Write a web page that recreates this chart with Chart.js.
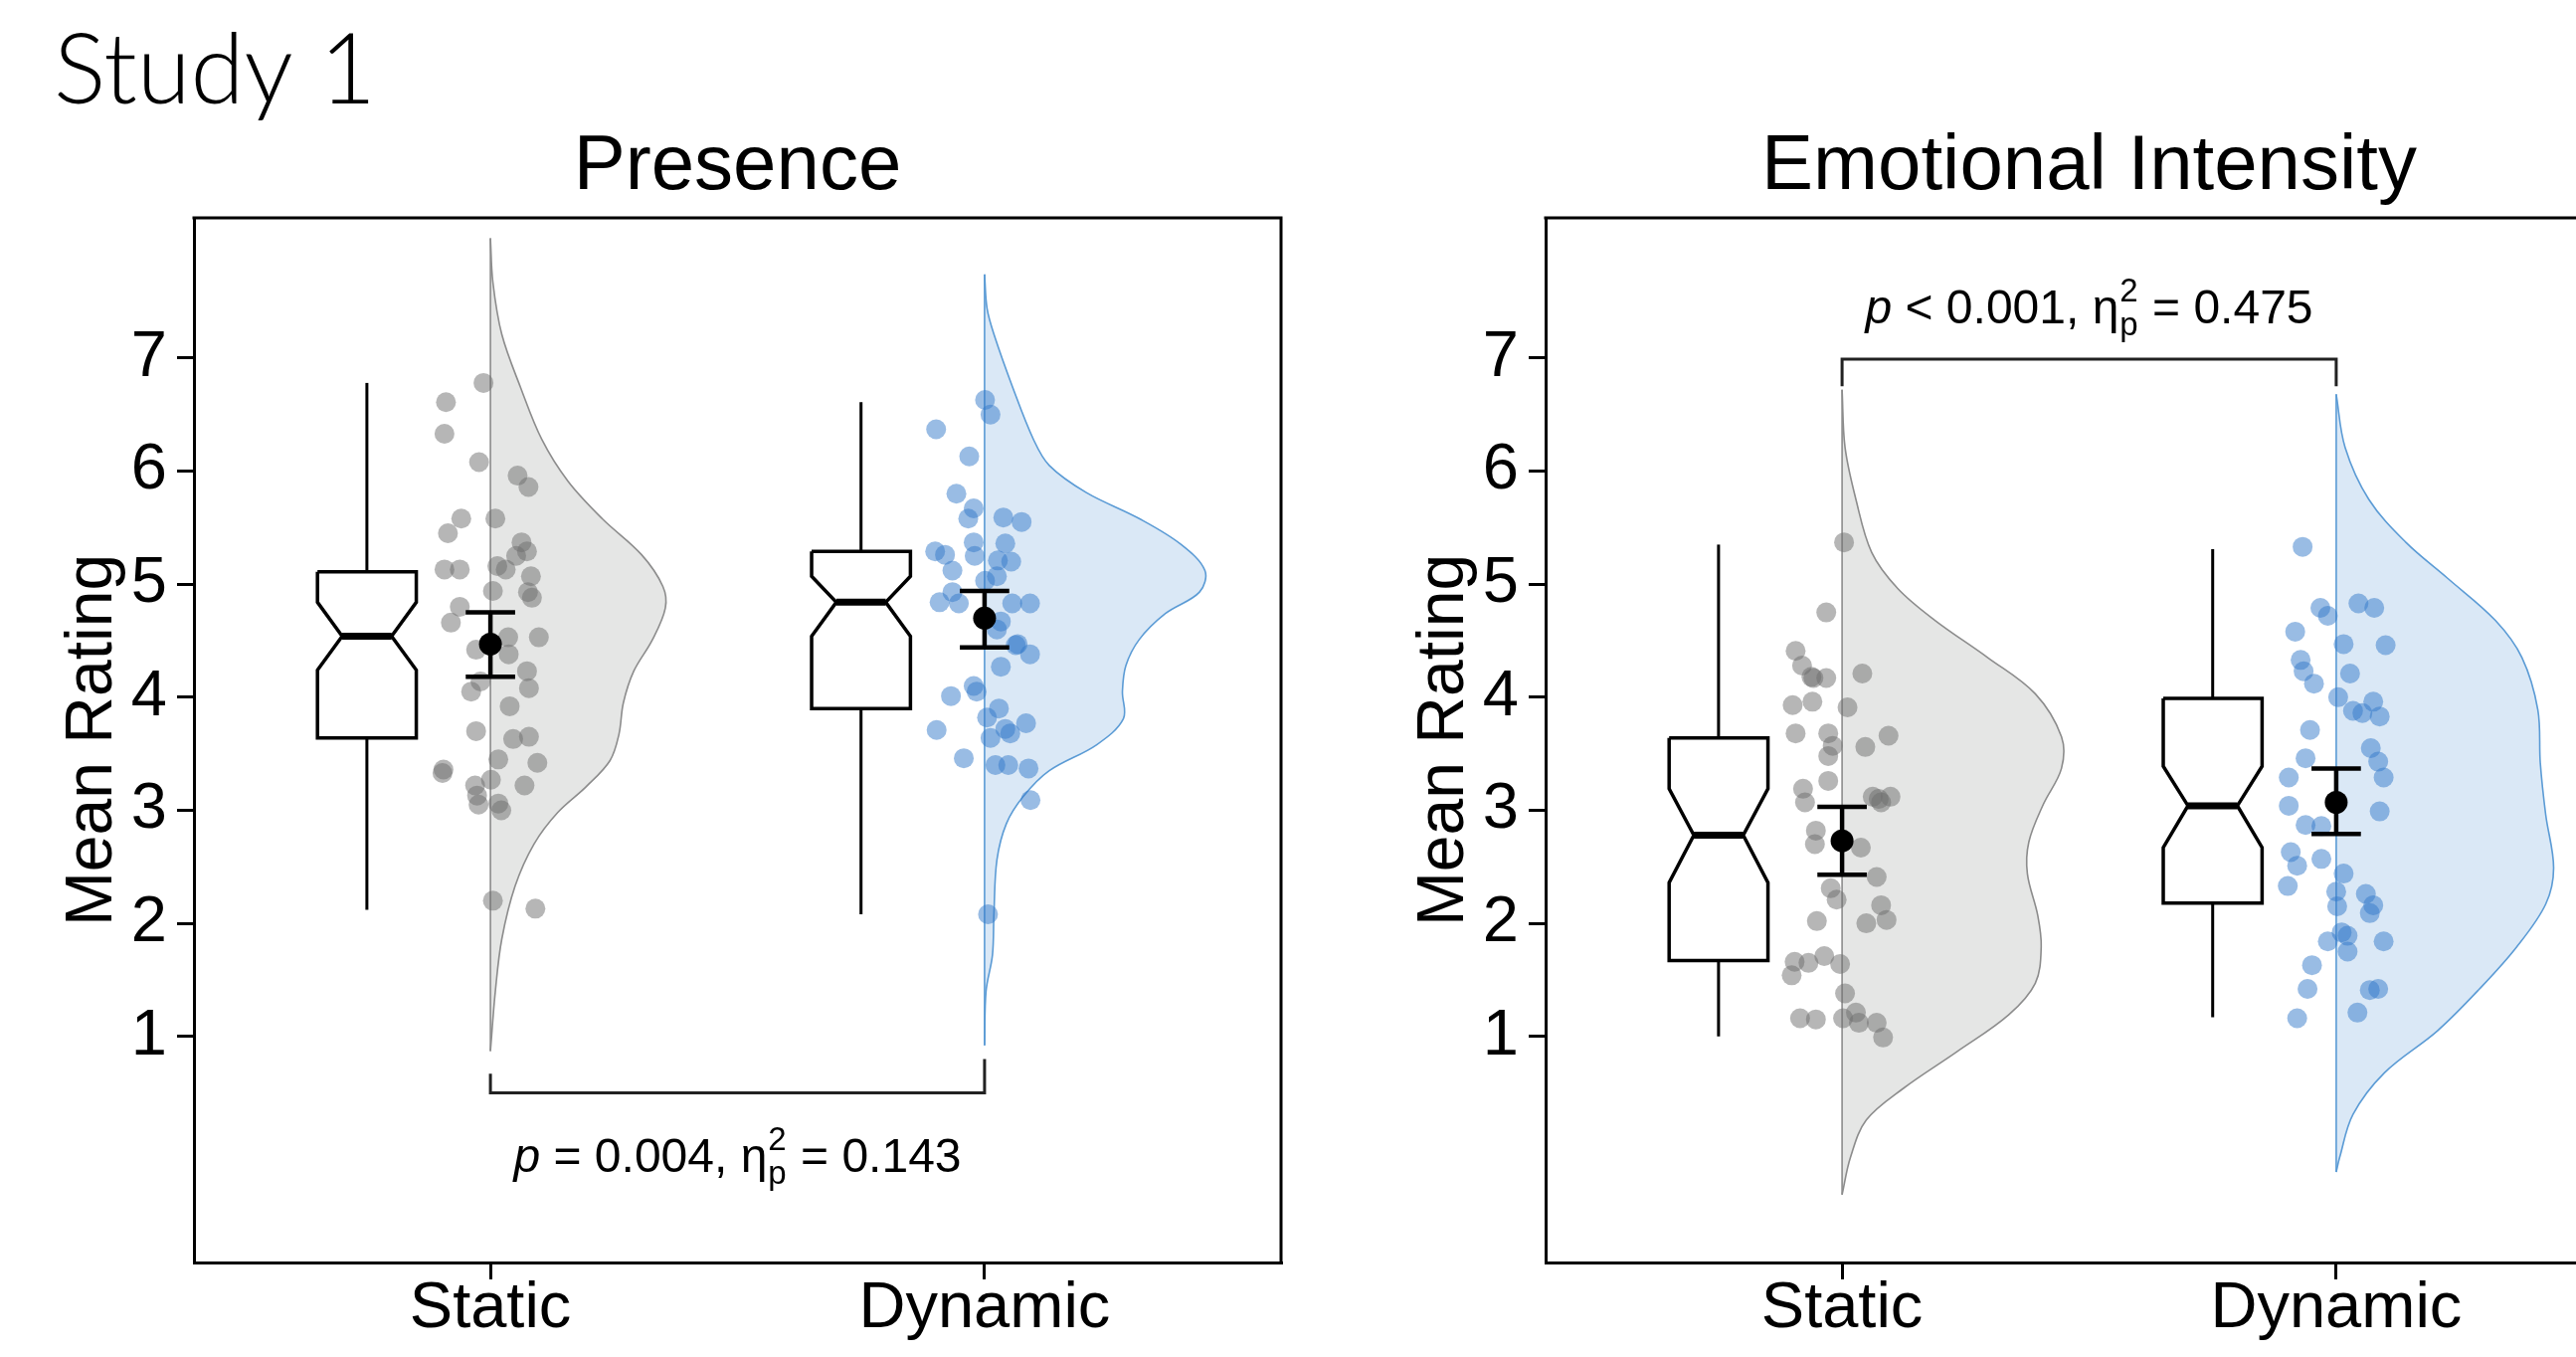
<!DOCTYPE html>
<html>
<head>
<meta charset="utf-8">
<script src="https://cdn.jsdelivr.net/npm/chart.js@4.4.1/dist/chart.umd.min.js"></script>
<style>
  html, body { margin: 0; padding: 0; background: #fff; overflow: hidden; width: 2590px; height: 1364px; }
  canvas { position: absolute; top: 0; }
  #presence { left: 0; }
  #emotion { left: 1359px; }
</style>
</head>
<body>
<canvas id="presence" width="1330" height="1364"></canvas>
<canvas id="emotion" width="1330" height="1364"></canvas>
<script>
// categories and ticks
const categories = ["Static", "Dynamic"];
const yTickValues = [1, 2, 3, 4, 5, 6, 7];
const panelTitles = ["Presence", "Emotional Intensity"];

// Presence - individual ratings (jitter)
const presStaticRatings = [6.78, 6.61, 6.33, 6.08, 5.96, 5.86, 5.58, 5.58, 5.45, 5.37, 5.29, 5.25, 5.13, 5.13, 5.16, 5.13, 5.07, 4.94, 4.93, 4.88, 4.80, 4.66, 4.53, 4.53, 4.42, 4.38, 4.23, 4.14, 4.05, 4.08, 3.92, 3.70, 3.63, 3.65, 3.36, 3.45, 3.42, 3.27, 3.22, 3.22, 3.05, 3.06, 3.00, 2.20, 2.13, 3.13, 3.33];
const presStaticJitter = [-0.014, -0.09, -0.093, -0.023, 0.055, 0.077, -0.059, 0.01, -0.086, 0.063, 0.074, 0.052, -0.093, -0.062, 0.014, 0.031, 0.082, 0.005, 0.076, 0.084, -0.062, -0.08, 0.036, 0.098, -0.029, 0.037, 0.074, -0.02, -0.039, 0.078, 0.039, -0.029, 0.046, 0.078, -0.095, 0.016, 0.095, 0.001, -0.031, 0.069, -0.024, 0.016, 0.022, 0.005, 0.091, -0.027, -0.097];
const presDynamicRatings = [6.63, 6.50, 6.37, 6.13, 5.80, 5.67, 5.58, 5.59, 5.55, 5.37, 5.36, 5.29, 5.26, 5.25, 5.21, 5.20, 5.12, 5.07, 4.93, 4.84, 4.83, 4.83, 4.83, 4.67, 4.60, 4.47, 4.38, 4.27, 4.10, 4.01, 4.05, 3.90, 3.82, 3.71, 3.77, 3.72, 3.68, 3.64, 3.46, 3.40, 3.40, 3.37, 3.09, 2.08, 4.46, 5.03];
const presDynamicJitter = [0.001, 0.012, -0.098, -0.031, -0.057, -0.022, -0.033, 0.038, 0.075, -0.022, 0.042, -0.1, -0.08, -0.02, 0.027, 0.054, -0.065, 0.025, -0.065, -0.091, -0.052, 0.056, 0.092, 0.033, 0.025, 0.067, 0.092, 0.033, -0.022, -0.068, -0.016, 0.029, 0.005, -0.097, 0.084, 0.042, 0.052, 0.012, -0.042, 0.022, 0.048, 0.089, 0.093, 0.007, 0.063, 0.001];

// Emotional Intensity - individual ratings
const emoStaticRatings = [5.37, 4.75, 4.41, 4.28, 4.17, 4.17, 4.21, 3.93, 3.96, 3.91, 3.68, 3.68, 3.57, 3.56, 3.66, 3.48, 3.26, 3.19, 3.07, 3.12, 3.12, 3.07, 2.82, 2.70, 2.67, 2.41, 2.31, 2.21, 2.16, 2.02, 2.00, 2.03, 1.66, 1.71, 1.64, 1.54, 1.65, 1.38, 1.21, 1.16, 1.15, 1.16, 1.12, 1.12, 0.99, 4.18, 3.10];
const emoStaticJitter = [0.004, -0.032, -0.094, -0.081, -0.058, -0.032, 0.041, -0.1, -0.06, 0.011, -0.094, -0.028, -0.019, 0.047, 0.094, -0.028, -0.028, -0.079, -0.075, 0.062, 0.098, 0.079, -0.053, -0.055, 0.038, 0.07, -0.023, -0.011, 0.079, -0.051, 0.049, 0.09, -0.096, -0.036, -0.004, -0.102, -0.068, 0.006, 0.028, -0.085, -0.053, 0.002, 0.034, 0.07, 0.083, -0.062, 0.074];
const emoDynamicRatings = [5.33, 4.79, 4.72, 4.83, 4.79, 4.58, 4.47, 4.46, 4.33, 4.23, 4.12, 4.21, 4.00, 3.88, 3.86, 3.96, 3.83, 3.71, 3.55, 3.46, 3.43, 3.29, 3.29, 3.04, 2.99, 2.87, 2.86, 2.63, 2.51, 2.57, 2.44, 2.33, 2.28, 2.26, 2.16, 2.15, 2.09, 1.84, 1.89, 1.84, 1.75, 1.63, 1.42, 1.41, 1.42, 1.16, 1.21, 1.92];
const emoDynamicJitter = [-0.068, -0.032, -0.017, 0.045, 0.077, -0.083, 0.015, 0.1, -0.072, -0.066, -0.045, 0.028, 0.004, 0.034, 0.053, 0.075, 0.088, -0.053, 0.07, -0.062, 0.085, -0.096, 0.096, -0.096, 0.088, -0.062, -0.03, -0.092, -0.079, -0.03, 0.015, -0.098, 0, 0.06, 0.075, 0.002, 0.068, -0.017, 0.023, 0.096, 0.023, -0.049, -0.058, 0.068, 0.085, -0.079, 0.043, 0.011];

// half violins: rating level and density half-width
const presStaticViolinY = [8.06, 7.67, 7.21, 6.74, 6.28, 5.91, 5.58, 5.26, 4.98, 4.79, 4.51, 4.23, 3.95, 3.67, 3.44, 3.21, 2.98, 2.70, 2.33, 1.86, 1.40, 0.87];
const presStaticViolinW = [0, 0.005, 0.023, 0.061, 0.104, 0.157, 0.226, 0.306, 0.349, 0.354, 0.328, 0.29, 0.269, 0.26, 0.242, 0.194, 0.136, 0.088, 0.05, 0.023, 0.01, 0];
const presDynamicViolinY = [7.74, 7.44, 7.21, 6.74, 6.28, 6.05, 5.81, 5.58, 5.35, 5.12, 4.93, 4.74, 4.51, 4.28, 4.05, 3.81, 3.58, 3.35, 3.12, 2.88, 2.56, 2.09, 1.72, 1.40, 0.92];
const presDynamicViolinW = [0, 0.005, 0.019, 0.057, 0.099, 0.131, 0.206, 0.313, 0.398, 0.446, 0.435, 0.366, 0.313, 0.286, 0.279, 0.281, 0.227, 0.131, 0.078, 0.044, 0.025, 0.019, 0.016, 0.003, 0];
const emoStaticViolinY = [6.72, 6.21, 5.75, 5.28, 4.96, 4.68, 4.35, 4.03, 3.65, 3.37, 3.05, 2.72, 2.44, 2.07, 1.79, 1.47, 1.19, 0.86, 0.54, 0.26, -0.07, -0.40];
const emoStaticViolinW = [0, 0.006, 0.028, 0.06, 0.113, 0.188, 0.295, 0.391, 0.444, 0.444, 0.407, 0.378, 0.375, 0.396, 0.403, 0.391, 0.337, 0.231, 0.124, 0.049, 0.017, 0];
const emoDynamicViolinY = [6.68, 6.21, 5.75, 5.37, 5.05, 4.68, 4.35, 3.89, 3.42, 2.96, 2.49, 2.17, 1.79, 1.42, 1.05, 0.68, 0.31, -0.07, -0.20];
const emoDynamicViolinW = [0, 0.018, 0.066, 0.141, 0.226, 0.322, 0.376, 0.408, 0.413, 0.424, 0.44, 0.424, 0.365, 0.29, 0.205, 0.098, 0.034, 0.007, 0];

// notched boxplots [Static, Dynamic]
const presWhiskerLow = [2.12, 2.08];
const presQ1 = [3.64, 3.90];
const presNotchLow = [4.24, 4.54];
const presMedian = [4.54, 4.84];
const presNotchHigh = [4.84, 5.07];
const presQ3 = [5.11, 5.29];
const presWhiskerHigh = [6.78, 6.61];
const emoWhiskerLow = [1.00, 1.17];
const emoQ1 = [1.67, 2.18];
const emoNotchLow = [2.36, 2.67];
const emoMedian = [2.78, 3.04];
const emoNotchHigh = [3.19, 3.39];
const emoQ3 = [3.64, 3.99];
const emoWhiskerHigh = [5.35, 5.31];

// means with confidence intervals
const presMean = [4.47, 4.70];
const presCiLow = [4.18, 4.44];
const presCiHigh = [4.75, 4.94];
const emoMean = [2.73, 3.07];
const emoCiLow = [2.43, 2.79];
const emoCiHigh = [3.03, 3.37];

// comparison statistics
const statRelation = ["=", "<"];
const statP = ["0.004", "0.001"];
const statEta = ["0.143", "0.475"];

const FONT = '"Liberation Sans", Arial, Helvetica, sans-serif';
const GREY = { fill: "rgb(229,230,229)", line: "rgb(140,140,140)", dot: "rgba(110,110,110,0.5)" };
const BLUE = { fill: "rgb(218,232,246)", line: "rgb(91,155,213)", dot: "rgba(52,122,202,0.5)" };

function seg(points, color, width, order) {
  return { data: points, showLine: true, borderColor: color, borderWidth: width, pointRadius: 0, tension: 0, fill: false, order: order, borderCapStyle: "butt" };
}

function groupDatasets(c, g, col) {
  const sets = [];
  // half violin to the right of the category
  sets.push({
    data: g.violinY.map((y, k) => ({ x: c + g.violinW[k], y: y })),
    showLine: true, fill: "shape", backgroundColor: col.fill, borderColor: col.line,
    borderWidth: 1.6, tension: 0.35, pointRadius: 0, order: 6
  });
  sets.push(seg([{ x: c, y: g.violinY[0] }, { x: c, y: g.violinY[g.violinY.length - 1] }], col.line, 1.6, 5));
  // jittered raw ratings
  sets.push({
    data: g.ratings.map((v, k) => ({ x: c + g.jitter[k], y: v })),
    pointRadius: 10, backgroundColor: col.dot, borderColor: col.dot, borderWidth: 0, order: 4
  });
  // notched box
  const bx = c - 0.25, hw = 0.1, nw = 0.05;
  const outline = [
    { x: bx - hw, y: g.q3 }, { x: bx + hw, y: g.q3 }, { x: bx + hw, y: g.nHi }, { x: bx + nw, y: g.med },
    { x: bx + hw, y: g.nLo }, { x: bx + hw, y: g.q1 }, { x: bx - hw, y: g.q1 }, { x: bx - hw, y: g.nLo },
    { x: bx - nw, y: g.med }, { x: bx - hw, y: g.nHi }, { x: bx - hw, y: g.q3 }
  ];
  const box = seg(outline, "#000", 3.5, 3);
  box.fill = "shape"; box.backgroundColor = "#fff"; box.borderJoinStyle = "miter";
  sets.push(box);
  sets.push(seg([{ x: bx, y: g.q3 }, { x: bx, y: g.whHi }], "#000", 3, 3));
  sets.push(seg([{ x: bx, y: g.q1 }, { x: bx, y: g.whLo }], "#000", 3, 3));
  sets.push(seg([{ x: bx - nw, y: g.med }, { x: bx + nw, y: g.med }], "#000", 7, 2));
  // mean and interval
  const cw = 0.05;
  sets.push(seg([{ x: c, y: g.ciLo }, { x: c, y: g.ciHi }], "#000", 4.5, 1));
  sets.push(seg([{ x: c - cw, y: g.ciLo }, { x: c + cw, y: g.ciLo }], "#000", 4.5, 1));
  sets.push(seg([{ x: c - cw, y: g.ciHi }, { x: c + cw, y: g.ciHi }], "#000", 4.5, 1));
  sets.push({ data: [{ x: c, y: g.mean }], pointRadius: 11.5, backgroundColor: "#000", borderWidth: 0, order: 0 });
  return sets;
}

function drawStat(ctx, cx, baseline, rel, p, eta) {
  const big = "48px " + FONT, it = "italic 48px " + FONT, small = "33px " + FONT;
  const parts = [
    { t: "p", f: it },
    { t: " " + rel + " " + p + ", \u03b7", f: big },
    { t: "2", f: small, sup: "p" },
    { t: " = " + eta, f: big }
  ];
  let total = 0;
  parts.forEach(pt => {
    ctx.font = pt.f;
    pt.w = ctx.measureText(pt.t).width;
    if (pt.sup) pt.w = Math.max(pt.w, ctx.measureText(pt.sup).width) + 2;
    total += pt.w;
  });
  let x = cx - total / 2;
  ctx.textAlign = "left";
  ctx.textBaseline = "alphabetic";
  parts.forEach(pt => {
    ctx.font = pt.f;
    if (pt.sup) {
      ctx.fillText(pt.t, x + 1, baseline - 22);
      ctx.fillText(pt.sup, x + 1, baseline + 12);
    } else {
      ctx.fillText(pt.t, x, baseline);
    }
    x += pt.w;
  });
}

function makePanel(id, idx, groups, bracket, statY, studyLabel) {
  let datasets = [];
  datasets = datasets.concat(groupDatasets(1, groups[0], GREY));
  datasets = datasets.concat(groupDatasets(2, groups[1], BLUE));
  datasets.push(seg([{ x: 1, y: bracket[0] }, { x: 1, y: bracket[1] }, { x: 2, y: bracket[1] }, { x: 2, y: bracket[2] }], "#222", 3, 0));

  const decor = {
    id: "decor" + idx,
    afterDraw(chart) {
      const ctx = chart.ctx, a = chart.chartArea, xs = chart.scales.x, ys = chart.scales.y;
      ctx.save();
      ctx.strokeStyle = "#000";
      ctx.lineWidth = 3;
      ctx.beginPath();
      ctx.moveTo(a.left - 1.5, a.top);
      ctx.lineTo(a.right, a.top);
      ctx.lineTo(a.right, a.bottom + 1.5);
      ctx.stroke();
      ctx.fillStyle = "#000";
      ctx.font = "78px " + FONT;
      ctx.textAlign = "center";
      ctx.textBaseline = "alphabetic";
      ctx.fillText(panelTitles[idx], (a.left + a.right) / 2, a.top - 29);
      drawStat(ctx, xs.getPixelForValue(1.5), ys.getPixelForValue(statY), statRelation[idx], statP[idx], statEta[idx]);
      if (studyLabel) {
        ctx.font = "300 98px Lato, sans-serif";
        ctx.textAlign = "left";
        ctx.fillText(studyLabel, 54, 104);
      }
      ctx.restore();
    }
  };

  new Chart(document.getElementById(id), {
    type: "scatter",
    data: { datasets: datasets },
    plugins: [decor],
    options: {
      responsive: false,
      animation: false,
      events: [],
      layout: { padding: { top: 219, right: 42, bottom: 0, left: 0 } },
      plugins: { legend: { display: false }, tooltip: { enabled: false } },
      scales: {
        x: {
          type: "linear", min: 0.4, max: 2.6,
          afterBuildTicks: s => { s.ticks = categories.map((c, i) => ({ value: i + 1 })); },
          afterFit: s => { s.height = 95; },
          ticks: {
            callback: (v, i) => categories[i], color: "#000", padding: -2, autoSkip: false, maxRotation: 0,
            font: { family: FONT, size: 65, lineHeight: 1 }
          },
          grid: { display: true, drawOnChartArea: false, drawTicks: true, tickLength: 17, color: "#000", lineWidth: 3 },
          border: { display: true, color: "#000", width: 3 }
        },
        y: {
          type: "linear", min: -1, max: 8.24,
          afterBuildTicks: s => { s.ticks = yTickValues.map(v => ({ value: v })); },
          afterFit: s => { s.width = 195; },
          ticks: {
            callback: v => String(v), color: "#000", padding: 10, autoSkip: false,
            font: { family: FONT, size: 65, lineHeight: 1 }
          },
          grid: { display: true, drawOnChartArea: false, drawTicks: true, tickLength: 17, color: "#000", lineWidth: 3 },
          border: { display: true, color: "#000", width: 3 },
          title: { display: true, text: "Mean Rating", color: "#000", padding: { top: 61, bottom: 0 }, font: { family: FONT, size: 66, lineHeight: 1 } }
        }
      }
    }
  });
}

makePanel("presence", 0, [
  { ratings: presStaticRatings, jitter: presStaticJitter, violinY: presStaticViolinY, violinW: presStaticViolinW,
    whLo: presWhiskerLow[0], q1: presQ1[0], nLo: presNotchLow[0], med: presMedian[0], nHi: presNotchHigh[0], q3: presQ3[0], whHi: presWhiskerHigh[0],
    mean: presMean[0], ciLo: presCiLow[0], ciHi: presCiHigh[0] },
  { ratings: presDynamicRatings, jitter: presDynamicJitter, violinY: presDynamicViolinY, violinW: presDynamicViolinW,
    whLo: presWhiskerLow[1], q1: presQ1[1], nLo: presNotchLow[1], med: presMedian[1], nHi: presNotchHigh[1], q3: presQ3[1], whHi: presWhiskerHigh[1],
    mean: presMean[1], ciLo: presCiLow[1], ciHi: presCiHigh[1] }
], [0.67, 0.5, 0.8], -0.197, "Study 1");

makePanel("emotion", 1, [
  { ratings: emoStaticRatings, jitter: emoStaticJitter, violinY: emoStaticViolinY, violinW: emoStaticViolinW,
    whLo: emoWhiskerLow[0], q1: emoQ1[0], nLo: emoNotchLow[0], med: emoMedian[0], nHi: emoNotchHigh[0], q3: emoQ3[0], whHi: emoWhiskerHigh[0],
    mean: emoMean[0], ciLo: emoCiLow[0], ciHi: emoCiHigh[0] },
  { ratings: emoDynamicRatings, jitter: emoDynamicJitter, violinY: emoDynamicViolinY, violinW: emoDynamicViolinW,
    whLo: emoWhiskerLow[1], q1: emoQ1[1], nLo: emoNotchLow[1], med: emoMedian[1], nHi: emoNotchHigh[1], q3: emoQ3[1], whHi: emoWhiskerHigh[1],
    mean: emoMean[1], ciLo: emoCiLow[1], ciHi: emoCiHigh[1] }
], [6.75, 6.99, 6.75], 7.305, null);
</script>
</body>
</html>
